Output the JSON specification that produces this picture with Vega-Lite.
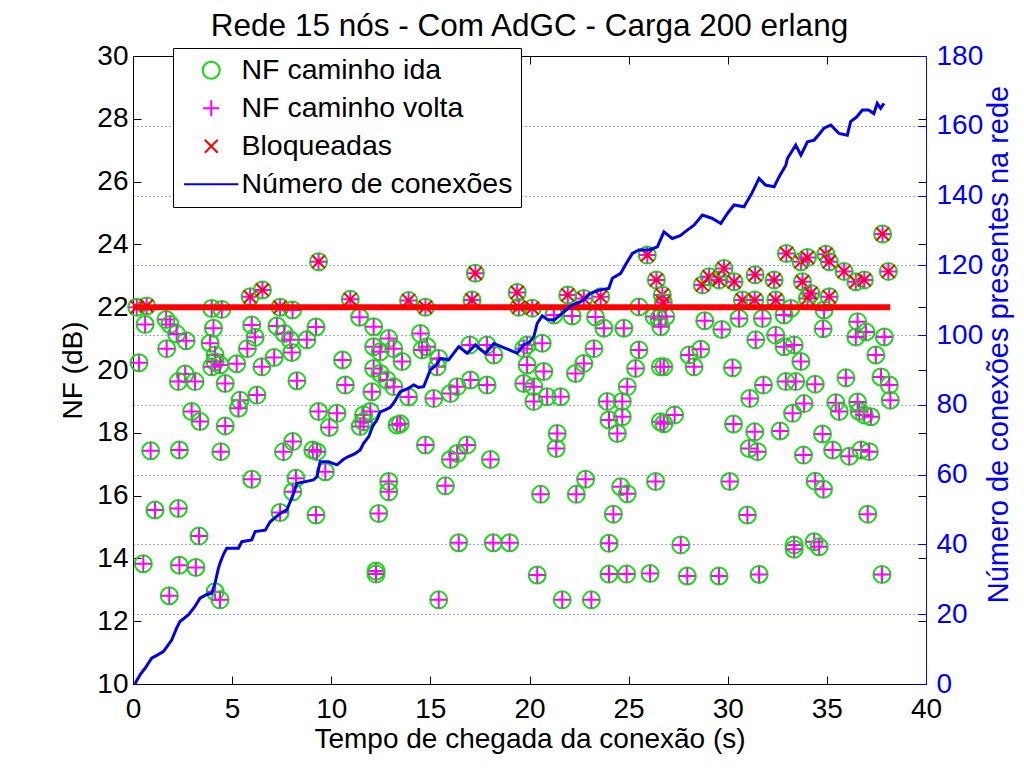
{
  "$schema": "https://vega.github.io/schema/vega-lite/v6.json",
  "width": 793,
  "height": 628,
  "autosize": {"type": "none"},
  "padding": {"left": 133, "top": 56, "right": 98, "bottom": 84},
  "background": "white",
  "title": {"text": "Rede 15 nós - Com AdGC - Carga 200 erlang", "fontSize": 31.5, "font": "Liberation Sans", "fontWeight": "normal", "color": "black", "anchor": "middle", "offset": 0},
  "config": {
    "view": {"stroke": null},
    "axis": {"labelFont": "Liberation Sans", "titleFont": "Liberation Sans", "labelFontSize": 28, "titleFontSize": 28, "titleFontWeight": "normal", "labelColor": "black", "titleColor": "black", "domainColor": "black", "tickColor": "black", "grid": false, "tickSize": -8, "domainWidth": 1, "tickWidth": 1, "labelFlush": false, "labelOverlap": false}
  },
  "datasets": {
    "pts": [
      {"t":0.19,"ida":22.0,"volta":22.0,"bloq":22.0},
      {"t":0.69,"ida":22.04,"volta":22.04,"bloq":22.04},
      {"t":5.91,"ida":22.33,"volta":22.33,"bloq":22.33},
      {"t":6.53,"ida":22.55,"volta":22.55,"bloq":22.55},
      {"t":7.42,"ida":22.0,"volta":22.0,"bloq":22.0},
      {"t":9.36,"ida":23.45,"volta":23.45,"bloq":23.45},
      {"t":10.96,"ida":22.25,"volta":22.25,"bloq":22.25},
      {"t":13.9,"ida":22.21,"volta":22.21,"bloq":22.21},
      {"t":14.75,"ida":22.0,"volta":22.0,"bloq":22.0},
      {"t":17.1,"ida":22.23,"volta":22.23,"bloq":22.23},
      {"t":17.27,"ida":23.08,"volta":23.08,"bloq":23.08},
      {"t":19.38,"ida":22.47,"volta":22.47,"bloq":22.47},
      {"t":19.46,"ida":22.0,"volta":22.0,"bloq":22.0},
      {"t":20.14,"ida":21.97,"volta":21.97,"bloq":21.97},
      {"t":21.93,"ida":22.39,"volta":22.39,"bloq":22.39},
      {"t":22.74,"ida":22.28,"volta":22.28,"bloq":22.28},
      {"t":23.59,"ida":22.33,"volta":22.33,"bloq":22.33},
      {"t":25.94,"ida":23.66,"volta":23.66,"bloq":23.66},
      {"t":26.4,"ida":22.87,"volta":22.87,"bloq":22.87},
      {"t":26.7,"ida":22.39,"volta":22.39,"bloq":22.39},
      {"t":26.75,"ida":22.15,"volta":22.15,"bloq":22.15},
      {"t":28.72,"ida":22.71,"volta":22.71,"bloq":22.71},
      {"t":29.06,"ida":22.97,"volta":22.97,"bloq":22.97},
      {"t":29.56,"ida":22.87,"volta":22.87,"bloq":22.87},
      {"t":29.81,"ida":23.23,"volta":23.23,"bloq":23.23},
      {"t":30.32,"ida":22.81,"volta":22.81,"bloq":22.81},
      {"t":30.74,"ida":22.23,"volta":22.23,"bloq":22.23},
      {"t":31.36,"ida":22.23,"volta":22.23,"bloq":22.23},
      {"t":31.38,"ida":23.03,"volta":23.03,"bloq":23.03},
      {"t":32.34,"ida":22.87,"volta":22.87,"bloq":22.87},
      {"t":32.42,"ida":22.23,"volta":22.23,"bloq":22.23},
      {"t":32.96,"ida":23.71,"volta":23.71,"bloq":23.71},
      {"t":33.69,"ida":23.45,"volta":23.45,"bloq":23.45},
      {"t":33.77,"ida":22.81,"volta":22.81,"bloq":22.81},
      {"t":34.02,"ida":23.58,"volta":23.58,"bloq":23.58},
      {"t":34.02,"ida":22.28,"volta":22.28,"bloq":22.28},
      {"t":34.19,"ida":22.44,"volta":22.44,"bloq":22.44},
      {"t":34.95,"ida":23.69,"volta":23.69,"bloq":23.69},
      {"t":35.12,"ida":23.45,"volta":23.45,"bloq":23.45},
      {"t":35.12,"ida":22.33,"volta":22.33,"bloq":22.33},
      {"t":35.87,"ida":23.14,"volta":23.14,"bloq":23.14},
      {"t":36.46,"ida":22.81,"volta":22.81,"bloq":22.81},
      {"t":36.89,"ida":22.87,"volta":22.87,"bloq":22.87},
      {"t":37.81,"ida":24.33,"volta":24.33,"bloq":24.33},
      {"t":38.1,"ida":23.14,"volta":23.14,"bloq":23.14},
      {"t":3.97,"ida":21.96,"volta":21.96},
      {"t":4.48,"ida":21.93,"volta":21.93},
      {"t":8.05,"ida":21.91,"volta":21.91},
      {"t":0.61,"ida":21.45,"volta":21.45},
      {"t":1.67,"ida":21.61,"volta":21.61},
      {"t":1.87,"ida":21.45,"volta":21.45},
      {"t":2.2,"ida":21.15,"volta":21.15},
      {"t":2.68,"ida":20.93,"volta":20.93},
      {"t":1.7,"ida":20.68,"volta":20.68},
      {"t":0.3,"ida":20.23,"volta":20.23},
      {"t":4.06,"ida":21.33,"volta":21.33},
      {"t":3.89,"ida":20.85,"volta":20.85},
      {"t":4.14,"ida":20.48,"volta":20.48},
      {"t":4.14,"ida":20.26,"volta":20.26},
      {"t":3.97,"ida":20.1,"volta":20.1},
      {"t":4.39,"ida":20.16,"volta":20.16},
      {"t":5.99,"ida":21.43,"volta":21.43},
      {"t":6.16,"ida":21.04,"volta":21.04},
      {"t":5.77,"ida":20.68,"volta":20.68},
      {"t":5.23,"ida":20.2,"volta":20.2},
      {"t":6.5,"ida":20.1,"volta":20.1},
      {"t":7.12,"ida":20.4,"volta":20.4},
      {"t":7.26,"ida":21.4,"volta":21.4},
      {"t":7.63,"ida":21.16,"volta":21.16},
      {"t":7.93,"ida":20.96,"volta":20.96},
      {"t":8.01,"ida":20.56,"volta":20.56},
      {"t":8.77,"ida":20.96,"volta":20.96},
      {"t":9.23,"ida":21.37,"volta":21.37},
      {"t":2.63,"ida":19.87,"volta":19.87},
      {"t":2.29,"ida":19.63,"volta":19.63},
      {"t":3.13,"ida":19.63,"volta":19.63},
      {"t":4.65,"ida":19.57,"volta":19.57},
      {"t":8.27,"ida":19.66,"volta":19.66},
      {"t":10.57,"ida":20.32,"volta":20.32},
      {"t":10.71,"ida":19.52,"volta":19.52},
      {"t":11.43,"ida":21.68,"volta":21.68},
      {"t":12.14,"ida":21.38,"volta":21.38},
      {"t":12.14,"ida":20.74,"volta":20.74},
      {"t":12.47,"ida":20.58,"volta":20.58},
      {"t":12.9,"ida":21.0,"volta":21.0},
      {"t":13.15,"ida":20.68,"volta":20.68},
      {"t":12.14,"ida":20.05,"volta":20.05},
      {"t":12.47,"ida":19.89,"volta":19.89},
      {"t":12.81,"ida":19.68,"volta":19.68},
      {"t":13.15,"ida":19.47,"volta":19.47},
      {"t":12.05,"ida":19.31,"volta":19.31},
      {"t":2.96,"ida":18.68,"volta":18.68},
      {"t":3.38,"ida":18.36,"volta":18.36},
      {"t":5.4,"ida":19.04,"volta":19.04},
      {"t":5.32,"ida":18.78,"volta":18.78},
      {"t":4.65,"ida":18.22,"volta":18.22},
      {"t":6.25,"ida":19.2,"volta":19.2},
      {"t":9.36,"ida":18.68,"volta":18.68},
      {"t":10.29,"ida":18.62,"volta":18.62},
      {"t":9.9,"ida":18.17,"volta":18.17},
      {"t":11.63,"ida":18.57,"volta":18.57},
      {"t":11.97,"ida":18.68,"volta":18.68},
      {"t":11.46,"ida":18.2,"volta":18.2},
      {"t":11.63,"ida":18.35,"volta":18.35},
      {"t":13.32,"ida":18.25,"volta":18.25},
      {"t":0.89,"ida":17.43,"volta":17.43},
      {"t":2.34,"ida":17.45,"volta":17.45},
      {"t":4.43,"ida":17.4,"volta":17.4},
      {"t":7.59,"ida":17.4,"volta":17.4},
      {"t":8.06,"ida":17.72,"volta":17.72},
      {"t":9.07,"ida":17.45,"volta":17.45},
      {"t":9.28,"ida":17.4,"volta":17.4},
      {"t":5.99,"ida":16.52,"volta":16.52},
      {"t":8.22,"ida":16.55,"volta":16.55},
      {"t":8.06,"ida":16.12,"volta":16.12},
      {"t":9.7,"ida":16.76,"volta":16.76},
      {"t":12.9,"ida":16.45,"volta":16.45},
      {"t":12.9,"ida":16.12,"volta":16.12},
      {"t":1.11,"ida":15.54,"volta":15.54},
      {"t":2.29,"ida":15.59,"volta":15.59},
      {"t":7.42,"ida":15.46,"volta":15.46},
      {"t":9.23,"ida":15.38,"volta":15.38},
      {"t":12.39,"ida":15.43,"volta":15.43},
      {"t":3.33,"ida":14.71,"volta":14.71},
      {"t":0.52,"ida":13.83,"volta":13.83},
      {"t":2.34,"ida":13.78,"volta":13.78},
      {"t":3.17,"ida":13.71,"volta":13.71},
      {"t":12.26,"ida":13.6,"volta":13.6},
      {"t":12.26,"ida":13.5,"volta":13.5},
      {"t":1.83,"ida":12.81,"volta":12.81},
      {"t":4.14,"ida":12.94,"volta":12.94},
      {"t":4.39,"ida":12.68,"volta":12.68},
      {"t":14.5,"ida":21.16,"volta":21.16},
      {"t":14.83,"ida":20.74,"volta":20.74},
      {"t":14.58,"ida":20.64,"volta":20.64},
      {"t":13.57,"ida":20.27,"volta":20.27},
      {"t":16.99,"ida":20.8,"volta":20.8},
      {"t":17.86,"ida":20.8,"volta":20.8},
      {"t":18.2,"ida":20.48,"volta":20.48},
      {"t":19.88,"ida":20.8,"volta":20.8},
      {"t":20.64,"ida":20.85,"volta":20.85},
      {"t":19.71,"ida":20.68,"volta":20.68},
      {"t":15.34,"ida":20.1,"volta":20.1},
      {"t":15.42,"ida":20.37,"volta":20.37},
      {"t":17.02,"ida":19.68,"volta":19.68},
      {"t":17.86,"ida":19.52,"volta":19.52},
      {"t":16.01,"ida":19.25,"volta":19.25},
      {"t":16.35,"ida":19.47,"volta":19.47},
      {"t":15.17,"ida":19.09,"volta":19.09},
      {"t":13.9,"ida":19.14,"volta":19.14},
      {"t":19.88,"ida":20.16,"volta":20.16},
      {"t":20.72,"ida":19.95,"volta":19.95},
      {"t":19.71,"ida":19.57,"volta":19.57},
      {"t":20.22,"ida":19.47,"volta":19.47},
      {"t":20.22,"ida":19.0,"volta":19.0},
      {"t":20.89,"ida":19.15,"volta":19.15},
      {"t":21.57,"ida":19.15,"volta":19.15},
      {"t":22.32,"ida":19.89,"volta":19.89},
      {"t":22.74,"ida":20.21,"volta":20.21},
      {"t":23.25,"ida":20.68,"volta":20.68},
      {"t":21.23,"ida":21.75,"volta":21.75},
      {"t":22.15,"ida":21.72,"volta":21.72},
      {"t":23.33,"ida":21.69,"volta":21.69},
      {"t":23.75,"ida":21.33,"volta":21.33},
      {"t":24.76,"ida":21.33,"volta":21.33},
      {"t":25.52,"ida":22.01,"volta":22.01},
      {"t":26.28,"ida":21.7,"volta":21.7},
      {"t":25.52,"ida":20.64,"volta":20.64},
      {"t":25.35,"ida":20.05,"volta":20.05},
      {"t":24.93,"ida":19.47,"volta":19.47},
      {"t":23.92,"ida":19.0,"volta":19.0},
      {"t":24.68,"ida":19.0,"volta":19.0},
      {"t":24.01,"ida":18.41,"volta":18.41},
      {"t":24.68,"ida":18.51,"volta":18.51},
      {"t":24.43,"ida":17.98,"volta":17.98},
      {"t":26.6,"ida":20.1,"volta":20.1},
      {"t":26.6,"ida":18.35,"volta":18.35},
      {"t":13.48,"ida":18.29,"volta":18.29},
      {"t":14.75,"ida":17.61,"volta":17.61},
      {"t":16.85,"ida":17.61,"volta":17.61},
      {"t":16.35,"ida":17.34,"volta":17.34},
      {"t":16.01,"ida":17.15,"volta":17.15},
      {"t":18.03,"ida":17.15,"volta":17.15},
      {"t":21.4,"ida":17.98,"volta":17.98},
      {"t":21.35,"ida":17.5,"volta":17.5},
      {"t":15.76,"ida":16.31,"volta":16.31},
      {"t":20.56,"ida":16.04,"volta":16.04},
      {"t":22.36,"ida":16.04,"volta":16.04},
      {"t":22.83,"ida":16.52,"volta":16.52},
      {"t":24.6,"ida":16.28,"volta":16.28},
      {"t":24.93,"ida":16.06,"volta":16.06},
      {"t":26.36,"ida":16.45,"volta":16.45},
      {"t":24.23,"ida":15.41,"volta":15.41},
      {"t":16.43,"ida":14.5,"volta":14.5},
      {"t":18.17,"ida":14.5,"volta":14.5},
      {"t":19.0,"ida":14.5,"volta":14.5},
      {"t":24.01,"ida":14.48,"volta":14.48},
      {"t":20.39,"ida":13.47,"volta":13.47},
      {"t":24.01,"ida":13.5,"volta":13.5},
      {"t":24.9,"ida":13.5,"volta":13.5},
      {"t":26.08,"ida":13.52,"volta":13.52},
      {"t":15.42,"ida":12.68,"volta":12.68},
      {"t":21.65,"ida":12.68,"volta":12.68},
      {"t":23.12,"ida":12.68,"volta":12.68},
      {"t":33.18,"ida":21.96,"volta":21.96},
      {"t":26.53,"ida":21.64,"volta":21.64},
      {"t":26.87,"ida":21.7,"volta":21.7},
      {"t":26.62,"ida":21.38,"volta":21.38},
      {"t":26.78,"ida":20.1,"volta":20.1},
      {"t":28.3,"ida":20.1,"volta":20.1},
      {"t":28.05,"ida":20.48,"volta":20.48},
      {"t":28.64,"ida":20.66,"volta":20.66},
      {"t":28.84,"ida":21.57,"volta":21.57},
      {"t":29.7,"ida":21.29,"volta":21.29},
      {"t":30.57,"ida":21.64,"volta":21.64},
      {"t":31.75,"ida":21.64,"volta":21.64},
      {"t":32.84,"ida":21.75,"volta":21.75},
      {"t":30.24,"ida":20.07,"volta":20.07},
      {"t":31.41,"ida":20.96,"volta":20.96},
      {"t":32.42,"ida":21.11,"volta":21.11},
      {"t":32.84,"ida":20.74,"volta":20.74},
      {"t":33.35,"ida":20.8,"volta":20.8},
      {"t":33.69,"ida":20.27,"volta":20.27},
      {"t":34.86,"ida":21.91,"volta":21.91},
      {"t":34.81,"ida":21.31,"volta":21.31},
      {"t":36.55,"ida":21.54,"volta":21.54},
      {"t":36.97,"ida":21.21,"volta":21.21},
      {"t":36.46,"ida":21.05,"volta":21.05},
      {"t":37.9,"ida":21.05,"volta":21.05},
      {"t":37.47,"ida":20.48,"volta":20.48},
      {"t":31.8,"ida":19.52,"volta":19.52},
      {"t":31.11,"ida":19.09,"volta":19.09},
      {"t":32.93,"ida":19.63,"volta":19.63},
      {"t":33.43,"ida":19.63,"volta":19.63},
      {"t":34.41,"ida":19.55,"volta":19.55},
      {"t":35.96,"ida":19.75,"volta":19.75},
      {"t":37.73,"ida":19.78,"volta":19.78},
      {"t":38.15,"ida":19.52,"volta":19.52},
      {"t":38.2,"ida":19.04,"volta":19.04},
      {"t":33.85,"ida":18.93,"volta":18.93},
      {"t":33.27,"ida":18.62,"volta":18.62},
      {"t":35.45,"ida":18.96,"volta":18.96},
      {"t":35.62,"ida":18.68,"volta":18.68},
      {"t":36.55,"ida":18.98,"volta":18.98},
      {"t":36.63,"ida":18.68,"volta":18.68},
      {"t":36.89,"ida":18.57,"volta":18.57},
      {"t":37.22,"ida":18.51,"volta":18.51},
      {"t":26.78,"ida":18.29,"volta":18.29},
      {"t":27.32,"ida":18.57,"volta":18.57},
      {"t":30.29,"ida":18.28,"volta":18.28},
      {"t":31.36,"ida":18.03,"volta":18.03},
      {"t":32.64,"ida":18.06,"volta":18.06},
      {"t":34.78,"ida":17.96,"volta":17.96},
      {"t":31.08,"ida":17.5,"volta":17.5},
      {"t":31.5,"ida":17.4,"volta":17.4},
      {"t":33.82,"ida":17.29,"volta":17.29},
      {"t":35.29,"ida":17.45,"volta":17.45},
      {"t":36.13,"ida":17.25,"volta":17.25},
      {"t":36.72,"ida":17.45,"volta":17.45},
      {"t":37.14,"ida":17.4,"volta":17.4},
      {"t":30.1,"ida":16.45,"volta":16.45},
      {"t":34.41,"ida":16.46,"volta":16.46},
      {"t":34.83,"ida":16.2,"volta":16.2},
      {"t":30.99,"ida":15.38,"volta":15.38},
      {"t":37.06,"ida":15.41,"volta":15.41},
      {"t":27.63,"ida":14.43,"volta":14.43},
      {"t":33.35,"ida":14.43,"volta":14.43},
      {"t":33.35,"ida":14.29,"volta":14.29},
      {"t":34.36,"ida":14.53,"volta":14.53},
      {"t":34.61,"ida":14.37,"volta":14.37},
      {"t":27.96,"ida":13.44,"volta":13.44},
      {"t":29.56,"ida":13.44,"volta":13.44},
      {"t":31.58,"ida":13.49,"volta":13.49},
      {"t":37.78,"ida":13.49,"volta":13.49}
    ],
    "conn": [
      {"t":0.1,"n":0},{"t":0.19,"n":1},{"t":0.4,"n":3},{"t":0.61,"n":4.5},{"t":0.94,"n":7.4},{"t":1.2,"n":8.2},{"t":1.53,"n":9.3},{"t":1.75,"n":11},{"t":1.95,"n":12.6},{"t":2.2,"n":16},{"t":2.37,"n":17.9},{"t":2.79,"n":19.8},{"t":3.1,"n":22},{"t":3.38,"n":24.6},{"t":3.7,"n":25.6},{"t":3.97,"n":26},{"t":4.14,"n":28.9},{"t":4.3,"n":33},{"t":4.39,"n":34.6},{"t":4.55,"n":37},{"t":4.73,"n":38.9},{"t":5.32,"n":38.9},{"t":5.49,"n":40.8},{"t":5.99,"n":41.3},{"t":6.16,"n":43.7},{"t":6.67,"n":44.1},{"t":6.92,"n":46.5},{"t":7.42,"n":48.9},{"t":7.76,"n":49.9},{"t":8.1,"n":54.6},{"t":8.27,"n":57.5},{"t":8.7,"n":58},{"t":9.1,"n":58.5},{"t":9.28,"n":59.4},{"t":9.44,"n":63.7},{"t":9.86,"n":63.7},{"t":10.29,"n":62.8},{"t":10.62,"n":64.4},{"t":10.87,"n":65.2},{"t":11.2,"n":66},{"t":11.46,"n":67.1},{"t":11.63,"n":69},{"t":11.9,"n":71},{"t":12.1,"n":74},{"t":12.31,"n":75.7},{"t":12.47,"n":78},{"t":12.7,"n":78.5},{"t":12.98,"n":79.3},{"t":13.2,"n":81},{"t":13.48,"n":83.8},{"t":13.8,"n":84.5},{"t":14.16,"n":85.7},{"t":14.4,"n":85},{"t":14.66,"n":85.2},{"t":15.0,"n":90},{"t":15.3,"n":91.5},{"t":15.5,"n":93.3},{"t":15.92,"n":92.9},{"t":16.2,"n":95},{"t":16.43,"n":96.7},{"t":16.85,"n":94.8},{"t":17.27,"n":97.2},{"t":17.5,"n":96},{"t":17.78,"n":94.8},{"t":18.2,"n":97.6},{"t":18.79,"n":96.2},{"t":19.1,"n":95.5},{"t":19.38,"n":94.8},{"t":19.71,"n":97.2},{"t":20.0,"n":98},{"t":20.22,"n":99.6},{"t":20.39,"n":103.4},{"t":20.64,"n":105.5},{"t":20.9,"n":104.5},{"t":21.23,"n":104.3},{"t":21.5,"n":105.5},{"t":21.73,"n":106.7},{"t":22.15,"n":108.6},{"t":22.58,"n":109.6},{"t":22.8,"n":110.5},{"t":23.08,"n":112},{"t":23.5,"n":112.9},{"t":24.0,"n":113.4},{"t":24.18,"n":116.3},{"t":24.6,"n":117.7},{"t":24.93,"n":121},{"t":25.19,"n":123.4},{"t":25.52,"n":124.4},{"t":26.03,"n":124.4},{"t":26.45,"n":125.3},{"t":26.78,"n":129.6},{"t":27.2,"n":127.7},{"t":27.6,"n":128.5},{"t":27.96,"n":130.1},{"t":28.3,"n":131.5},{"t":28.72,"n":134.4},{"t":29.2,"n":133.5},{"t":29.65,"n":132},{"t":30.0,"n":135},{"t":30.32,"n":137.3},{"t":30.82,"n":136.8},{"t":31.2,"n":140.5},{"t":31.58,"n":144.9},{"t":31.9,"n":143},{"t":32.34,"n":142.5},{"t":32.6,"n":145.5},{"t":32.93,"n":148.7},{"t":33.01,"n":150.6},{"t":33.43,"n":154.5},{"t":33.69,"n":151.6},{"t":34.02,"n":155.4},{"t":34.36,"n":155.9},{"t":34.6,"n":157.5},{"t":34.85,"n":159.3},{"t":35.2,"n":160.2},{"t":35.61,"n":157.8},{"t":36.03,"n":157.3},{"t":36.2,"n":161.2},{"t":36.5,"n":162.5},{"t":36.79,"n":164.5},{"t":37.1,"n":164.5},{"t":37.37,"n":163.5},{"t":37.54,"n":166.4},{"t":37.71,"n":165},{"t":37.88,"n":166.4}
    ],
    "thr": [{"t":0,"v":22},{"t":38.2,"v":22}]
  },
  "resolve": {"scale": {"y": "independent"}, "axis": {"x": "independent", "y": "independent"}},
  "layer": [
    {
      "data": {"name": "pts"},
      "transform": [{"fold": ["ida", "volta", "bloq"], "as": ["serie", "nf"]}, {"filter": "isValid(datum.nf)"}],
      "mark": {"type": "point", "filled": false, "size": 289, "strokeWidth": 2, "opacity": 1},
      "encoding": {
        "x": {"field": "t", "type": "quantitative", "scale": {"domain": [0, 40], "nice": false},
              "axis": {"orient": "bottom", "values": [0,5,10,15,20,25,30,35,40], "title": "Tempo de chegada da conexão (s)", "labelPadding": 19, "titlePadding": 2}},
        "y": {"field": "nf", "type": "quantitative", "scale": {"domain": [10, 30], "nice": false, "zero": false},
              "axis": {"orient": "left", "values": [10,12,14,16,18,20,22,24,26,28,30], "title": "NF (dB)", "labelPadding": 13, "titlePadding": 9}},
        "color": {"field": "serie", "type": "nominal",
                  "scale": {"domain": ["ida", "volta", "bloq", "n"], "range": ["#11dd11", "#ff00ff", "#ff0000", "#0000ee"]},
                  "legend": {"orient": "none", "legendX": 40, "legendY": -8, "title": null, "zindex": 1,
                             "labelExpr": "{'ida':'NF caminho ida','volta':'NF caminho volta','bloq':'Bloqueadas','n':'Número de conexões'}[datum.label]",
                             "direction": "vertical", "fillColor": "white", "strokeColor": "black", "padding": 8, "rowPadding": 9,
                             "symbolSize": 289, "symbolStrokeWidth": 2, "symbolOffset": 16, "labelOffset": 16, "labelFontSize": 28.5,
                             "labelFont": "Liberation Sans", "labelColor": "black", "symbolFillColor": "transparent", "labelLimit": 400}},
        "shape": {"field": "serie", "type": "nominal",
                  "scale": {"domain": ["ida", "volta", "bloq", "n"], "range": ["circle", "M-0.95,0H0.95M0,-0.95V0.95", "M-0.76,-0.76L0.76,0.76M-0.76,0.76L0.76,-0.76", "M-3.2,0H3.2"]},
                  "legend": {"orient": "none", "legendX": 40, "legendY": -8, "title": null, "zindex": 1,
                             "labelExpr": "{'ida':'NF caminho ida','volta':'NF caminho volta','bloq':'Bloqueadas','n':'Número de conexões'}[datum.label]",
                             "direction": "vertical", "fillColor": "white", "strokeColor": "black", "padding": 8, "rowPadding": 9,
                             "symbolSize": 289, "symbolStrokeWidth": 2, "symbolOffset": 16, "labelOffset": 16, "labelFontSize": 28.5,
                             "labelFont": "Liberation Sans", "labelColor": "black", "symbolFillColor": "transparent", "labelLimit": 400}}
      }
    },
    {
      "data": {"name": "thr"},
      "mark": {"type": "line", "color": "#ff0000", "strokeWidth": 6},
      "encoding": {
        "x": {"field": "t", "type": "quantitative", "scale": {"domain": [0, 40], "nice": false},
              "axis": {"orient": "top", "values": [0,5,10,15,20,25,30,35,40], "labels": false, "title": null}},
        "y": {"field": "v", "type": "quantitative", "scale": {"domain": [10, 30], "nice": false, "zero": false},
              "axis": {"orient": "right", "values": [10,12,14,16,18,20,22,24,26,28,30], "labels": false, "domain": false, "title": null}}
      }
    },
    {
      "data": {"name": "conn"},
      "transform": [{"fold": ["n"], "as": ["serie", "cnt"]}],
      "mark": {"type": "line", "strokeWidth": 3},
      "encoding": {
        "x": {"field": "t", "type": "quantitative", "scale": {"domain": [0, 40], "nice": false}, "axis": null},
        "y": {"field": "cnt", "type": "quantitative", "scale": {"domain": [0, 180], "nice": false},
              "axis": {"orient": "right", "values": [0,20,40,60,80,100,120,140,160,180], "title": "Número de conexões presentes na rede",
                       "labelPadding": 18, "titlePadding": 2, "titleAngle": 270, "titleBaseline": "top", "titleFontSize": 29, "titleY": 288,
                       "labelColor": "#0000ff", "titleColor": "#0000ff", "domainColor": "#0000ff", "tickColor": "#0000ff",
                       "grid": true, "gridColor": "#3c3cf0", "gridDash": [1, 3], "gridWidth": 1,
                       "gridOpacity": {"condition": {"test": "datum.value == 0 || datum.value == 180", "value": 0}, "value": 1}}},
        "color": {"field": "serie", "type": "nominal",
                  "scale": {"domain": ["ida", "volta", "bloq", "n"], "range": ["#11dd11", "#ff00ff", "#ff0000", "#0000ee"]},
                  "legend": {"orient": "none", "legendX": 40, "legendY": -8, "title": null, "zindex": 1,
                             "labelExpr": "{'ida':'NF caminho ida','volta':'NF caminho volta','bloq':'Bloqueadas','n':'Número de conexões'}[datum.label]",
                             "direction": "vertical", "fillColor": "white", "strokeColor": "black", "padding": 8, "rowPadding": 9,
                             "symbolSize": 289, "symbolStrokeWidth": 2, "symbolOffset": 16, "labelOffset": 16, "labelFontSize": 28.5,
                             "labelFont": "Liberation Sans", "labelColor": "black", "symbolFillColor": "transparent", "labelLimit": 400}}
      }
    }
  ]
}
